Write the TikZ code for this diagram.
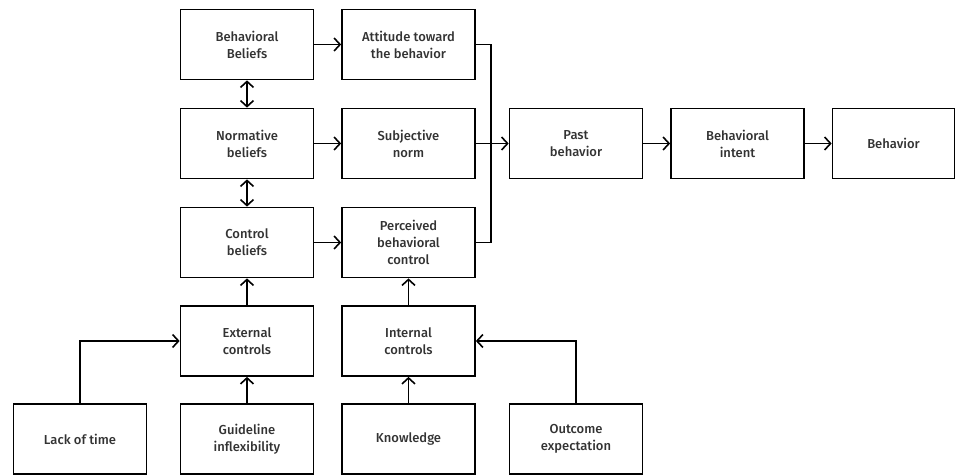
\documentclass[tikz,border=0pt]{standalone}
\usepackage{fontspec}
\setmainfont{Fira Sans Medium}
\usetikzlibrary{arrows.meta}
\begin{document}
\begin{tikzpicture}[x=1pt,y=-1pt,
  box/.style={draw, line width=1.7pt, minimum width=133pt, minimum height=70pt, align=center, inner sep=2pt, text=black!80, font=\fontsize{13}{17}\selectfont},
  conn/.style={line width=1.6pt},
  arr/.style={conn, -{Straight Barb[length=6pt,width=13pt,line width=1.6pt]}},
  darr/.style={conn, {Straight Barb[length=6pt,width=13pt,line width=1.6pt]}-{Straight Barb[length=6pt,width=13pt,line width=1.6pt]}}]
\useasboundingbox (0,0) rectangle (956,476);
\node[box] (bb) at (247,44.5) {Behavioral\\Beliefs};
\node[box] (att) at (408.5,44.5) {Attitude toward\\the behavior};
\node[box] (nb) at (247,143.5) {Normative\\beliefs};
\node[box] (sn) at (408.5,143.5) {Subjective\\norm};
\node[box] (cb) at (247,242.5) {Control\\beliefs};
\node[box] (pbc) at (408.5,242.5) {Perceived\\behavioral\\control};
\node[box] (past) at (576,143.5) {Past\\behavior};
\node[box] (int) at (737.5,143.5) {Behavioral\\intent};
\node[box, minimum width=122pt] (beh) at (893.5,143.5) {Behavior};
\node[box] (ext) at (247,341) {External\\controls};
\node[box] (intc) at (408.5,341) {Internal\\controls};
\node[box] (lack) at (80,439) {Lack of time};
\node[box] (guide) at (247,439) {Guideline\\inflexibility};
\node[box] (know) at (408.5,439) {Knowledge};
\node[box] (out) at (576,439) {Outcome\\expectation};
\coordinate (j) at (491,143.5);
\draw[arr] (bb) -- (att);
\draw[arr] (nb) -- (sn);
\draw[arr] (cb) -- (pbc);
\draw[darr] (bb) -- (nb);
\draw[darr] (nb) -- (cb);
\draw[conn] (att.east) -| (j);
\draw[conn] (pbc.east) -| (j);
\draw[arr] (sn) -- (past);
\draw[arr] (past) -- (int);
\draw[arr] (int) -- (beh);
\draw[arr] (ext) -- (cb);
\draw[arr] (intc) -- (pbc);
\draw[arr] (guide) -- (ext);
\draw[arr] (know) -- (intc);
\draw[arr] (lack.north) |- (ext.west);
\draw[arr] (out.north) |- (intc.east);
\end{tikzpicture}
\end{document}
